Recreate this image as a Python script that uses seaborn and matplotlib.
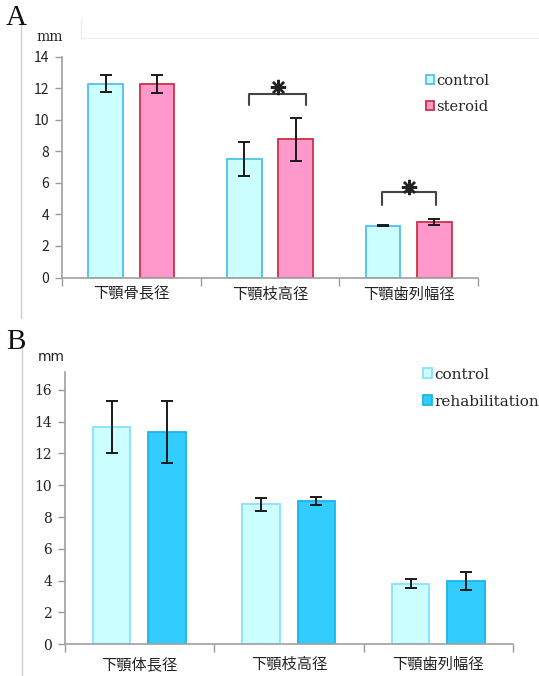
import numpy as np
import pandas as pd
import matplotlib
matplotlib.use("Agg")
import matplotlib.pyplot as plt
from matplotlib.lines import Line2D
from matplotlib.patches import Patch
import seaborn as sns

# Panel A: steroid study
cats_a = ["下顎骨長径", "下顎枝高径", "下顎歯列幅径"]
groups_a = ["control", "steroid"]
control_a = [12.28, 7.52, 3.29]
control_a_err = [0.53, 1.07, 0.05]
steroid_a = [12.28, 8.75, 3.52]
steroid_a_err = [0.58, 1.37, 0.18]

# Panel B: rehabilitation study
cats_b = ["下顎体長径", "下顎枝高径", "下顎歯列幅径"]
groups_b = ["control", "rehabilitation"]
control_b = [13.65, 8.80, 3.81]
control_b_err = [1.62, 0.39, 0.30]
rehab_b = [13.36, 9.00, 3.98]
rehab_b_err = [1.95, 0.27, 0.58]

yticks_a = [0, 2, 4, 6, 8, 10, 12, 14]
yticks_b = [0, 2, 4, 6, 8, 10, 12, 14, 16]

sns.set_theme(style="white")
plt.rcParams["font.family"] = ["Noto Sans CJK JP", "DejaVu Sans"]

W, H = 539, 676
fig = plt.figure(figsize=(W / 100, H / 100), dpi=100)


def px_axes(left, top, right, bottom):
    return fig.add_axes([left / W, 1 - bottom / H, (right - left) / W, (bottom - top) / H])


def draw_panel(ax, cats, groups, vals, errs, faces, edges, ylim, yticks,
               tick_font, tick_size, cat_size):
    df = pd.DataFrame({
        "cat": [c for c in cats for _ in groups],
        "grp": [g for _ in cats for g in groups],
        "val": [vals[j][i] for i in range(len(cats)) for j in range(len(groups))],
    })
    sns.barplot(data=df, x="cat", y="val", hue="grp", order=cats, hue_order=groups,
                palette=dict(zip(groups, faces)), width=0.74, gap=0.32,
                errorbar=None, legend=False, ax=ax, saturation=1)
    bar_groups = list(ax.containers)
    for j, cont in enumerate(bar_groups):
        for i, bar in enumerate(cont):
            bar.set_edgecolor(edges[j])
            bar.set_linewidth(1.3)
            cx = bar.get_x() + bar.get_width() / 2
            ax.errorbar(cx, vals[j][i], yerr=errs[j][i], fmt="none",
                        ecolor="#1a1a1a", elinewidth=1.4, capsize=4, capthick=1.4,
                        zorder=5)
    ax.set_xlim(-0.5, len(cats) - 0.5)
    ax.set_ylim(*ylim)
    ax.set_yticks(yticks)
    ax.set_yticklabels([str(t) for t in yticks], family=tick_font, fontsize=tick_size,
                       color="#222222")
    ax.set_xticks([-0.5, 0.5, 1.5, 2.5])
    ax.set_xticklabels([])
    ax.tick_params(axis="x", which="major", length=6, width=1, color="#999999",
                   direction="out", bottom=True)
    ax.tick_params(axis="y", length=5, width=1, color="#999999", direction="out",
                   left=True, pad=4)
    for i, c in enumerate(cats):
        ax.text(i, -0.075, c, transform=ax.get_xaxis_transform(), ha="center",
                va="center", fontsize=cat_size, color="#222222",
                family=["Noto Sans CJK JP", "DejaVu Sans"])
    ax.set_xlabel("")
    ax.set_ylabel("")
    for s in ["top", "right"]:
        ax.spines[s].set_visible(False)
    for s in ["left", "bottom"]:
        ax.spines[s].set_color("#a0a0a0")
        ax.spines[s].set_linewidth(1.2)
    ax.grid(False)


def bracket(ax, x0, x1, y_top, y_end, star_y):
    ax.plot([x0, x0, x1, x1], [y_end, y_top, y_top, y_end], color="#444444",
            lw=1.5, solid_joinstyle="round", solid_capstyle="round", zorder=6)
    # significance mark: an eight-armed asterisk
    ax.plot([(x0 + x1) / 2], [star_y], linestyle="none", marker=(8, 2, 0),
            markersize=11, markeredgewidth=1.7, color="#222222", zorder=6)


# ---- Panel A ----
axA = px_axes(62, 56.7, 478, 277.5)
draw_panel(axA, cats_a, groups_a, [control_a, steroid_a], [control_a_err, steroid_a_err],
           ["#CCFFFF", "#FF99CC"], ["#4FC1E9", "#CC3344"], (0, 14), yticks_a,
           "Noto Sans CJK JP", 10, 11)
bracket(axA, 1 - 0.15, 1 + 0.26, 11.65, 10.95, 12.1)
bracket(axA, 2 - 0.19, 2 + 0.2, 5.4, 4.6, 5.75)
handles_a = [Patch(facecolor="#CCFFFF", edgecolor="#4FC1E9", lw=1.3),
             Patch(facecolor="#FF99CC", edgecolor="#CC3344", lw=1.3)]
axA.legend(handles_a, groups_a, loc="upper left", bbox_to_anchor=(0.86, 0.95),
           frameon=False, handlelength=0.6, handleheight=0.6, handletextpad=0.15,
           labelspacing=0.85, borderaxespad=0,
           prop={"family": "DejaVu Serif", "size": 10.5})
fig.text(36 / W, 1 - 37 / H, "mm", fontsize=10, family="DejaVu Serif",
         color="#222222", va="center", ha="left")
fig.text(6 / W, 1 - 18 / H, "A", fontsize=21, family="Liberation Serif",
         color="#111111", va="center", ha="left")

# ---- Panel B ----
axB = px_axes(64.5, 372.3, 513, 644.3)
draw_panel(axB, cats_b, groups_b, [control_b, rehab_b], [control_b_err, rehab_b_err],
           ["#CCFFFF", "#33CCFF"], ["#88E0FF", "#1AB5E8"], (0, 17.1), yticks_b,
           "DejaVu Serif", 10, 11)
handles_b = [Patch(facecolor="#CCFFFF", edgecolor="#88E0FF", lw=1.3),
             Patch(facecolor="#33CCFF", edgecolor="#1AB5E8", lw=1.3)]
axB.legend(handles_b, groups_b, loc="upper left", bbox_to_anchor=(0.785, 1.04),
           frameon=False, handlelength=0.6, handleheight=0.6, handletextpad=0.15,
           labelspacing=0.85, borderaxespad=0,
           prop={"family": "DejaVu Serif", "size": 11})
fig.text(38 / W, 1 - 357 / H, "mm", fontsize=10, family="DejaVu Sans",
         color="#222222", va="center", ha="left")
fig.text(6 / W, 1 - 342 / H, "B", fontsize=21, family="Liberation Serif",
         color="#111111", va="center", ha="left")

# thin frame lines around each panel
fig.add_artist(Line2D([21 / W, 21 / W], [1 - 20 / H, 1 - 318 / H], color="#cccccc", lw=1))
fig.add_artist(Line2D([81 / W, 81 / W], [1 - 18 / H, 1 - 38 / H], color="#eeeeee", lw=1))
fig.add_artist(Line2D([81 / W, 1], [1 - 38 / H, 1 - 38 / H], color="#f0f0f0", lw=1))
fig.add_artist(Line2D([21.5 / W, 21.5 / W], [1 - 348 / H, 0], color="#cccccc", lw=1))

fig.savefig("out.png", dpi=100)
